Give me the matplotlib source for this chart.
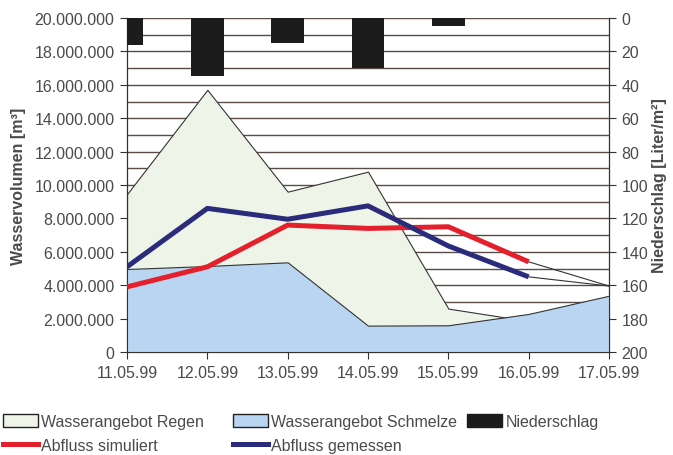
import numpy as np
import matplotlib.pyplot as plt
from matplotlib.ticker import FuncFormatter, MultipleLocator
from matplotlib.patches import Patch
from matplotlib.lines import Line2D

plt.rcParams['font.family'] = ['Liberation Sans', 'DejaVu Sans']

datum = ['11.05.99', '12.05.99', '13.05.99', '14.05.99', '15.05.99', '16.05.99', '17.05.99']
regen = [9.45e6, 15.7e6, 9.6e6, 10.8e6, 2.6e6, 1.85e6, 1.9e6]
schmelze = [4.97e6, 5.15e6, 5.37e6, 1.58e6, 1.6e6, 2.28e6, 3.37e6]
abfluss_sim = [3.9e6, 5.1e6, 7.6e6, 7.4e6, 7.5e6, 5.4e6, 3.95e6]
abfluss_gem = [5.1e6, 8.6e6, 7.95e6, 8.75e6, 6.35e6, 4.5e6, 3.95e6]
niederschlag = [16, 35, 15, 30, 5, 0, 0]

txt = '#4a4a4a'
grid = '#5a4b48'
fs = 11.5

fig = plt.figure(figsize=(6.73, 4.56), dpi=100)
ax = fig.add_axes([127/673, 1 - 353/456, (609 - 127)/673, (353 - 19)/456])
x = np.arange(len(datum))

ax.fill_between(x, regen, color='#eef5e8', edgecolor='#333333', linewidth=0.8, zorder=2)
ax.fill_between(x, schmelze, color='#b9d5f2', edgecolor='#333333', linewidth=0.8, zorder=3)

# simulated / measured discharge: thick up to 16.05, thin last segment
ax.plot(x[:6], abfluss_sim[:6], color='#e3202c', lw=3.6, zorder=5, solid_capstyle='butt')
ax.plot(x[:6], abfluss_gem[:6], color='#2b2b7c', lw=3.6, zorder=6, solid_capstyle='butt')
ax.plot(x[5:], abfluss_sim[5:], color='#333333', lw=0.8, zorder=4)
ax.plot(x[5:], abfluss_gem[5:], color='#333333', lw=0.8, zorder=4)

ax.set_xlim(0, 6)
ax.set_ylim(0, 20e6)
ax.set_xticks(x)
ax.set_xticklabels(datum)
ax.yaxis.set_major_locator(MultipleLocator(2e6))
ax.yaxis.set_minor_locator(MultipleLocator(1e6))
ax.yaxis.set_major_formatter(FuncFormatter(lambda v, p: f'{v:,.0f}'.replace(',', '.')))
ax.grid(axis='y', which='both', color=grid, lw=1.0, zorder=1)
ax.set_axisbelow(True)
ax.tick_params(axis='y', which='minor', length=0)
ax.tick_params(which='major', length=5, color='#333333', labelsize=fs, labelcolor=txt, pad=4)
ax.set_ylabel('Wasservolumen [m³]', fontsize=fs, fontweight='bold', color=txt, labelpad=6)

for s in ax.spines.values():
    s.set_color('#333333')
    s.set_linewidth(0.9)
ax.spines['top'].set_visible(False)

ax2 = ax.twinx()
ax2.bar(x, niederschlag, width=0.41, bottom=0, color='#1c1c1c', zorder=3)
ax2.set_ylim(200, 0)
ax2.set_xlim(0, 6)
ax2.yaxis.set_major_locator(MultipleLocator(20))
ax2.tick_params(length=5, color='#333333', labelsize=fs, labelcolor=txt, pad=4)
ax2.set_ylabel('Niederschlag [Liter/m²]', fontsize=fs, fontweight='bold', color=txt, labelpad=3)
for s in ax2.spines.values():
    s.set_visible(False)

# legend in three columns below the chart
cols = [
    (3, [Patch(facecolor='#eef5e8', edgecolor='#222222', lw=1.0),
         Line2D([], [], color='#e3202c', lw=3.6)],
        ['Wasserangebot Regen', 'Abfluss simuliert']),
    (233, [Patch(facecolor='#b9d5f2', edgecolor='#222222', lw=1.0),
           Line2D([], [], color='#2b2b7c', lw=3.6)],
        ['Wasserangebot Schmelze', 'Abfluss gemessen']),
    (467, [Patch(facecolor='#1c1c1c', edgecolor='#1c1c1c')],
        ['Niederschlag']),
]
for xpos, handles, labels in cols:
    leg = fig.legend(handles, labels, loc='upper left', bbox_to_anchor=(xpos/673, 1 - 415/456),
                     frameon=False, fontsize=fs, handlelength=2.2, handleheight=0.8,
                     handletextpad=0.2, labelspacing=0.55, borderpad=0, borderaxespad=0)
    for t in leg.get_texts():
        t.set_color(txt)

fig.savefig('out.png', dpi=100)
